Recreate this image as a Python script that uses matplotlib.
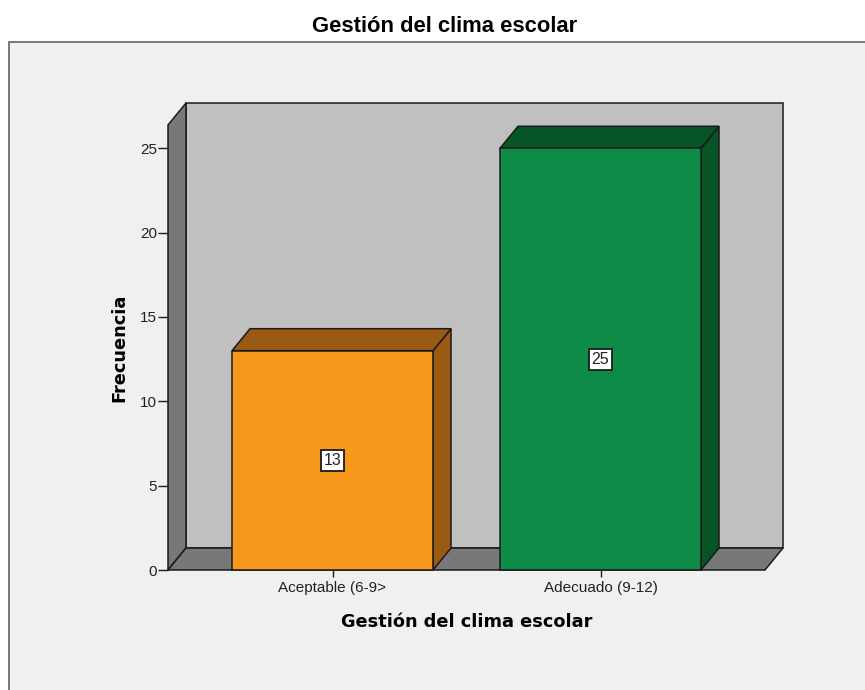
import matplotlib.pyplot as plt
from matplotlib.patches import Polygon, Rectangle

categories = ["Aceptable (6-9>", "Adecuado (9-12)"]
counts = [13, 25]
yticks = [0, 5, 10, 15, 20, 25]

front_colors = ["#f7981d", "#0f8b48"]
shade_colors = ["#9a5a14", "#075427"]

W, H = 865, 690
fig = plt.figure(figsize=(W / 100, H / 100), dpi=100)
fig.patch.set_facecolor("white")

# outer grey panel
fig.patches.append(Rectangle((9 / W, -0.01), 1.0, (H - 42) / H + 0.01,
                             transform=fig.transFigure, facecolor="#f0f0f0",
                             edgecolor="#6e6e6e", linewidth=1.3, zorder=-5))

# front plane of the plot in pixels
left, right, bottom, top = 168, 765, 570, 125
ax = fig.add_axes([left / W, (H - bottom) / H, (right - left) / W, (bottom - top) / H])
ax.set_facecolor("none")
for s in ax.spines.values():
    s.set_visible(False)

px_per_cat = 268
xmin = -(332.5 - left) / px_per_cat
xmax = 1 + (right - 600.5) / px_per_cat
ymax = 26.38
ax.set_xlim(xmin, xmax)
ax.set_ylim(0, ymax)

# 3D depth in data units
dx = 18 / px_per_cat
dy = 22 / ((bottom - top) / ymax)
bw = 201 / px_per_cat
edge = dict(edgecolor="#1a1a1a", linewidth=1.1, clip_on=False)

# back wall, left wall, floor
ax.add_patch(Polygon([(xmin + dx, dy), (xmax + dx, dy), (xmax + dx, ymax + dy), (xmin + dx, ymax + dy)],
                     closed=True, facecolor="#c0c0c0", zorder=1, **edge))
ax.add_patch(Polygon([(xmin, 0), (xmin + dx, dy), (xmin + dx, ymax + dy), (xmin, ymax)],
                     closed=True, facecolor="#787878", zorder=2, **edge))
ax.add_patch(Polygon([(xmin, 0), (xmax, 0), (xmax + dx, dy), (xmin + dx, dy)],
                     closed=True, facecolor="#787878", zorder=2, **edge))

for i, (v, fc, sc) in enumerate(zip(counts, front_colors, shade_colors)):
    x0, x1 = i - bw / 2, i + bw / 2
    ax.add_patch(Polygon([(x1, 0), (x1 + dx, dy), (x1 + dx, v + dy), (x1, v)],
                         closed=True, facecolor=sc, zorder=3, **edge))
    ax.add_patch(Polygon([(x0, v), (x1, v), (x1 + dx, v + dy), (x0 + dx, v + dy)],
                         closed=True, facecolor=sc, zorder=3, **edge))
    ax.add_patch(Rectangle((x0, 0), bw, v, facecolor=fc, zorder=4, **edge))
    ax.text(i, v / 2, str(v), ha="center", va="center", fontsize=11.5,
            family="Liberation Sans", color="#222222", zorder=5,
            bbox=dict(boxstyle="square,pad=0.18", facecolor="white", edgecolor="#1a1a1a", linewidth=1.3))

ax.set_xticks(range(len(categories)))
ax.set_xticklabels(categories, family="Liberation Sans", fontsize=11, color="#222222")
ax.set_yticks(yticks)
ax.set_yticklabels([str(t) for t in yticks], family="Liberation Sans", fontsize=11, color="#222222")
ax.tick_params(axis="y", direction="out", length=7, width=1, color="#1a1a1a", pad=1)
ax.tick_params(axis="x", direction="out", length=5, width=1, color="#1a1a1a", pad=3)

ax.set_xlabel("Gestión del clima escolar", fontsize=12.8, fontweight="bold", labelpad=13)
ax.set_ylabel("Frecuencia", fontsize=12.8, fontweight="bold", labelpad=8)

fig.text(445 / W, 1 - 26 / H, "Gestión del clima escolar", ha="center", va="center",
         fontsize=15.8, fontweight="bold", family="Liberation Sans")

fig.savefig("out.png", dpi=100)
